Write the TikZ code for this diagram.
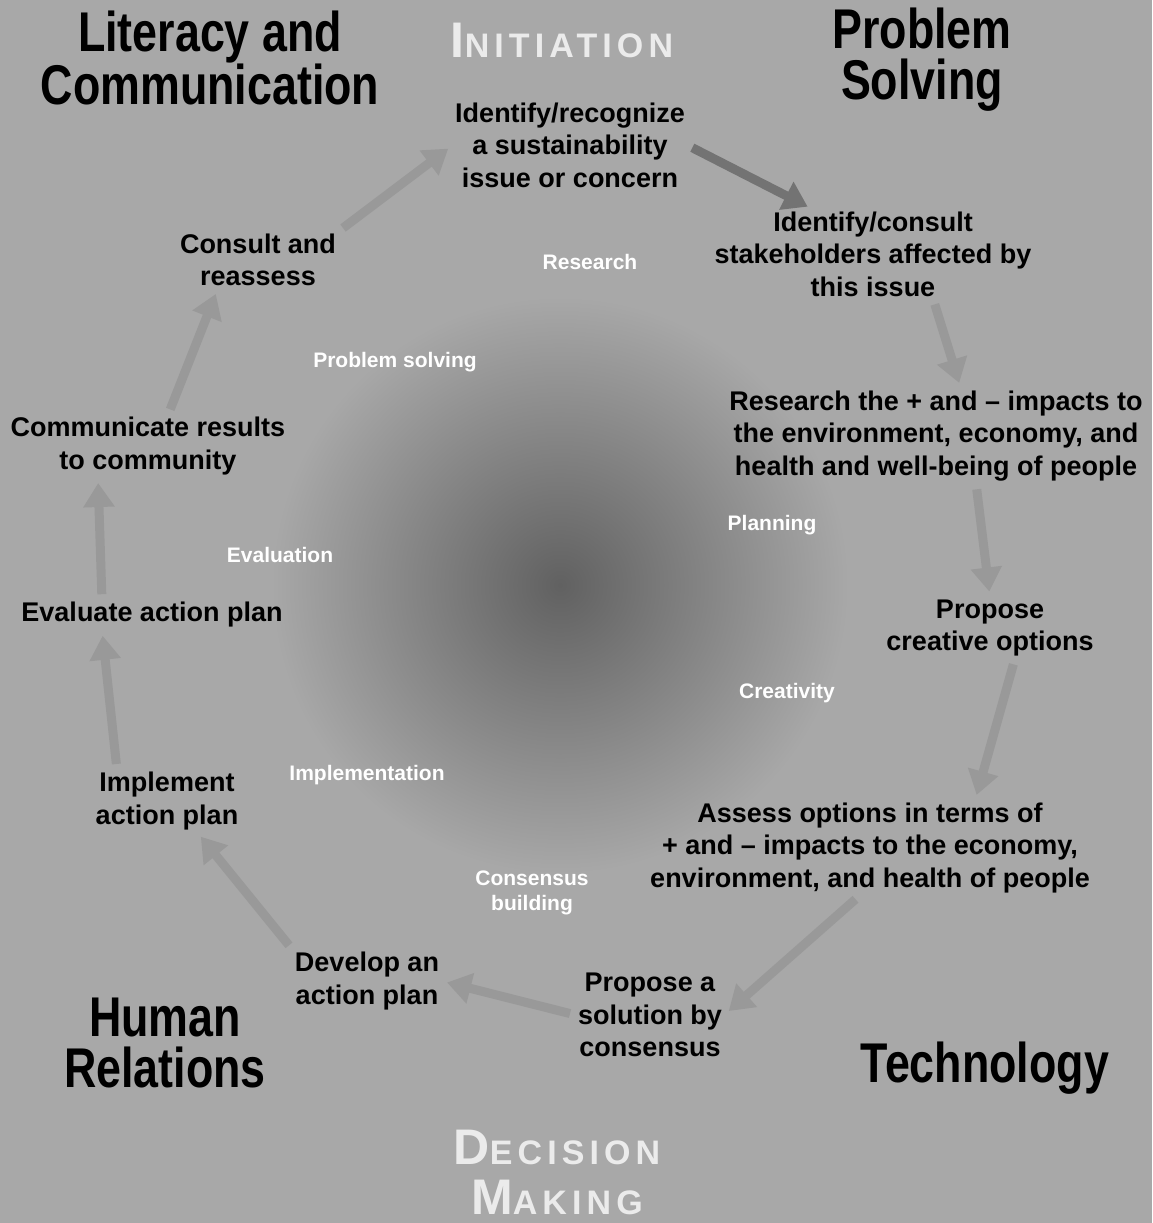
\documentclass[tikz,border=0pt]{standalone}
\usepackage{fontspec}
\setmainfont{Liberation Sans}
\newfontfamily\headfont[FakeStretch=0.8]{Liberation Sans}
\newfontfamily\capsfont[LetterSpace=15]{Liberation Sans}
\usetikzlibrary{arrows.meta}

\definecolor{paper}{gray}{0.66}
\definecolor{core}{gray}{0.38}
\definecolor{flowgray}{gray}{0.60}
\definecolor{flowdark}{gray}{0.45}

%% fake small caps: big first letter, rest smaller
\newcommand{\fakesc}[2]{{\fontsize{50}{50}\selectfont #1}{\fontsize{34}{50}\selectfont #2}}

\begin{document}
\begin{tikzpicture}[x=1pt,y=-1pt,
  stage/.style={align=center, font=\bfseries\fontsize{27}{32.5}\selectfont, inner sep=2pt},
  phase/.style={align=center, text=white, font=\bfseries\fontsize{21}{25}\selectfont},
  area/.style={align=center, font=\headfont\bfseries\fontsize{56}{51}\selectfont},
  mode/.style={align=center, text=white!92!black, font=\capsfont\bfseries\fontsize{34}{50}\selectfont},
  flow/.style={line width=9pt, draw=flowgray, -{Triangle[width=30pt,length=24pt]}, shorten <=6pt, shorten >=6pt}
]

%% background
\fill[paper] (0,0) rectangle (1152,1223);
\shade[inner color=core, outer color=paper] (560,585) circle (290);
\useasboundingbox (0,0) rectangle (1152,1223);

%% skill areas
\node[area] (literacy) at (210,58) {Literacy and\\Communication};
\node[area] (problem) at (922,60) {Problem\\Solving};
\node[area] (human) at (165,1043) {Human\\Relations};
\node[area] (technology) at (985,1068) {Technology};

%% modes
\node[mode] (initiation) at (562,40) {\fakesc{I}{NITIATION}};
\node[mode] (decision) at (557,1172) {\fakesc{D}{ECISION}\\\fakesc{M}{AKING}};

%% steps
\node[stage] (identify) at (570,145) {Identify/recognize\\a sustainability\\issue or concern};
\node[stage] (consult) at (873,254) {Identify/consult\\stakeholders affected by\\this issue};
\node[stage] (research) at (936,436) {Research the + and -- impacts to\\the environment, economy, and\\health and well-being of people};
\node[stage] (propose) at (990,628) {Propose\\creative options};
\node[stage] (assess) at (870,848) {Assess options in terms of\\+ and -- impacts to the economy,\\environment, and health of people};
\node[stage] (solution) at (650,1015) {Propose a\\solution by\\consensus};
\node[stage] (develop) at (367,981) {Develop an\\action plan};
\node[stage] (implement) at (167,801) {Implement\\action plan};
\node[stage] (evaluate) at (152,615) {Evaluate action plan};
\node[stage] (communicate) at (148,446) {Communicate results\\to community};
\node[stage] (reassess) at (258,260) {Consult and\\reassess};

%% phase labels
\node[phase] (lbresearch) at (590,262) {Research};
\node[phase] (lbproblem) at (395,362) {Problem solving};
\node[phase] (lbplanning) at (772,525) {Planning};
\node[phase] (lbevaluation) at (280,555) {Evaluation};
\node[phase] (lbcreativity) at (787,693) {Creativity};
\node[phase] (lbimplement) at (367,775) {Implementation};
\node[phase] (lbconsensus) at (532,893) {Consensus\\building};

%% cycle arrows
\draw[flow, draw=flowdark] (identify.east) -- ([xshift=-60pt]consult.north);
\draw[flow] ([xshift=60pt]consult.south) -- ([xshift=25pt]research.north);
\draw[flow] ([xshift=40pt]research.south) -- (propose.north);
\draw[flow] ([xshift=25pt]propose.south) -- ([xshift=105pt]assess.north);
\draw[flow] ([xshift=-10pt]assess.south) -- (solution.east);
\draw[flow] (solution.west) -- (develop.east);
\draw[flow] (develop.north west) -- ([xshift=30pt]implement.south);
\draw[flow] ([xshift=-50pt]implement.north) -- ([xshift=-50pt]evaluate.south);
\draw[flow] ([xshift=-50pt]evaluate.north) -- ([xshift=-50pt]communicate.south);
\draw[flow] ([xshift=20pt]communicate.north) -- ([xshift=-40pt]reassess.south);
\draw[flow] (reassess.north east) -- (identify.west);

\end{tikzpicture}
\end{document}
